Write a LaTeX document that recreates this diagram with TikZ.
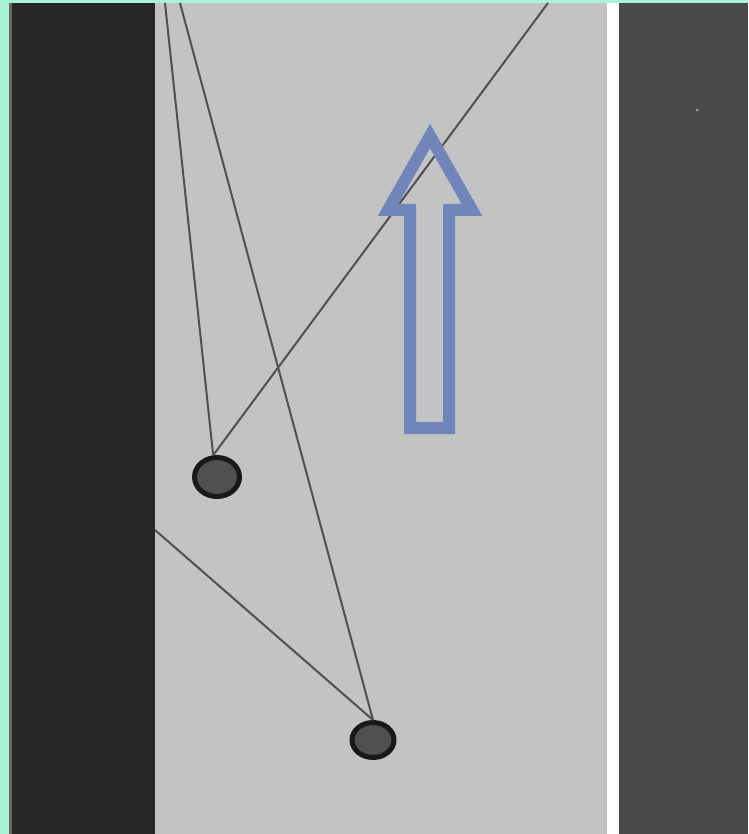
\documentclass[tikz,border=0pt]{standalone}
\usepackage{tikz}
\usetikzlibrary{calc,shapes.geometric}

\definecolor{mint}{HTML}{A8F5D6}
\definecolor{panelL}{HTML}{262626}
\definecolor{panelM}{HTML}{C3C3C3}
\definecolor{panelR}{HTML}{4A4A4A}
\definecolor{seil}{HTML}{505050}
\definecolor{pfeil}{HTML}{7086BA}

\tikzset{
	seilstil/.style={draw=seil, line width=2pt},
	kugel/.style={ellipse, draw=black!90, fill=seil, line width=5pt, inner sep=0pt},
}

\begin{document}
\begin{tikzpicture}[x=1pt,y=-1pt]
		\useasboundingbox (0,0) rectangle (748,834);
		%background
		\fill[mint] (0,0) rectangle (748,834);
		\fill[panelL] (9,3) rectangle (155,834);
		\fill[panelM] (155,3) rectangle (607,834);
		\fill[white] (607,3) rectangle (619,834);
		\fill[panelR] (619,3) rectangle (748,834);
		\fill[black!60] (9,3) rectangle (12,834);
		\fill[gray!70] (697,110) circle (1.5);
		
		%anchor points
		\coordinate (a1) at (165,3);
		\coordinate (a2) at (180,3);
		\coordinate (a3) at (548,3);
		\coordinate (a4) at (155,530);
		
		%masses
		\node[kugel, minimum width=45, minimum height=39] (m1) at (217,477) {};
		\node[kugel, minimum width=42, minimum height=35] (m2) at (373,740) {};
		
		%ropes
		\draw[seilstil] (a1) -- (m1.100);
		\draw[seilstil] (a3) -- (m1.100);
		\draw[seilstil] (a2) -- (m2.north);
		\draw[seilstil] (a4) -- (m2.north);
		
		%direction
		\draw[pfeil, line width=12pt, miter limit=20] (430,136) -- (472,210) -- (449,210) -- (449,428) -- (410,428) -- (410,210) -- (388,210) -- cycle;
		
		\end{tikzpicture}
\end{document}
